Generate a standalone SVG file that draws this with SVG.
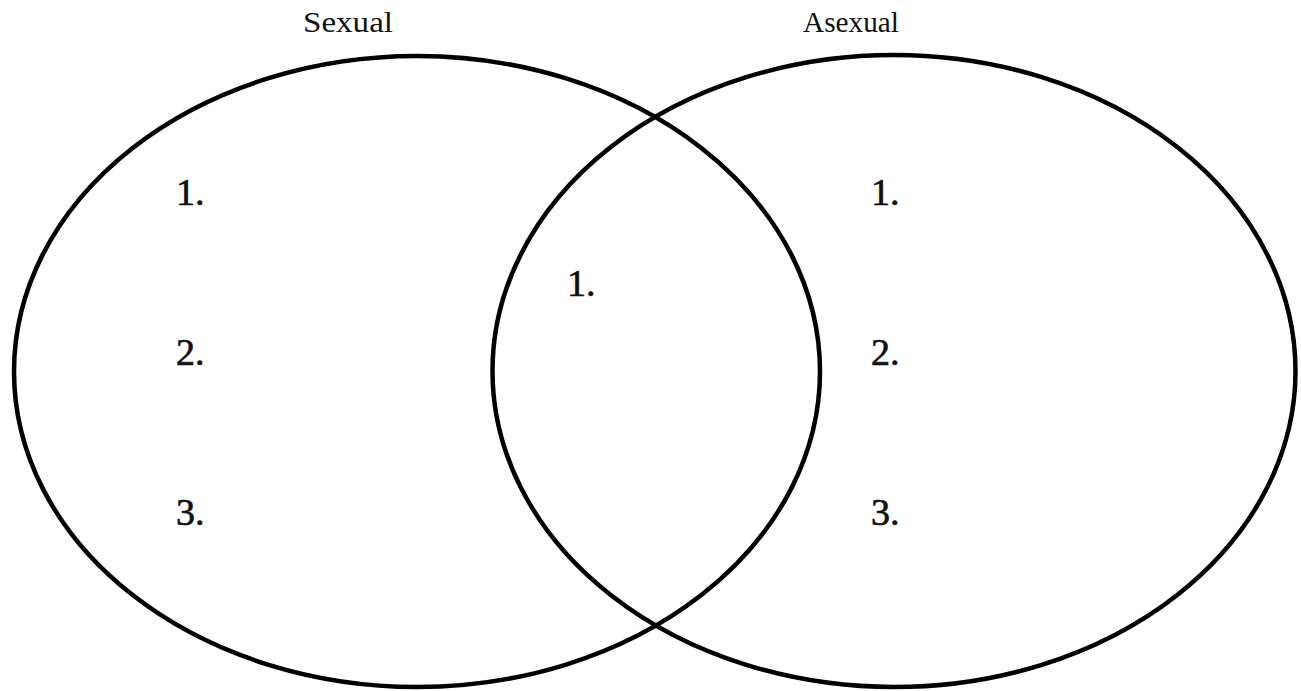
<svg xmlns="http://www.w3.org/2000/svg" width="1301" height="691" viewBox="0 0 1301 691">
<style>
.ring{fill:none;stroke:#000;stroke-width:4.5}
.title{font-family:"Liberation Serif",serif;font-size:29px;fill:#111}
.num{font-family:"Liberation Serif",serif;font-size:38px;fill:#111;stroke:#111;stroke-width:0.7}
</style>
<rect width="1301" height="691" fill="#fff"/>
<g id="sexual">
<ellipse class="ring" cx="417" cy="371.5" rx="403" ry="315.5"/>
<text class="title" x="348" y="32" text-anchor="middle" textLength="90" lengthAdjust="spacingAndGlyphs">Sexual</text>
<text class="num" x="176" y="205">1.</text>
<text class="num" x="176" y="365">2.</text>
<text class="num" x="176" y="525">3.</text>
</g>
<g id="asexual">
<ellipse class="ring" cx="894" cy="371" rx="401.5" ry="316"/>
<text class="title" x="851" y="32" text-anchor="middle" textLength="96" lengthAdjust="spacingAndGlyphs">Asexual</text>
<text class="num" x="871" y="205">1.</text>
<text class="num" x="871" y="365">2.</text>
<text class="num" x="871" y="525">3.</text>
</g>
<g id="both">
<text class="num" x="567" y="296">1.</text>
</g>
<g id="connectors"/>
</svg>
